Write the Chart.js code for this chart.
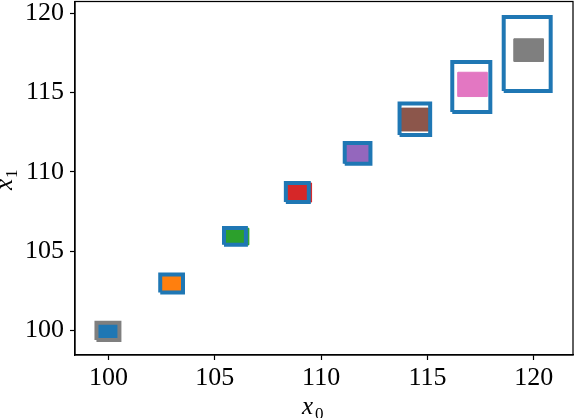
<!DOCTYPE html>
<html>
<head>
<meta charset="utf-8">
<script src="https://cdn.jsdelivr.net/npm/chart.js@4.4.1/dist/chart.umd.min.js"></script>
<style>
  html, body { margin: 0; padding: 0; background: #fff; }
  #wrap { width: 576px; height: 418px; }
</style>
</head>
<body>
<div id="wrap"><canvas id="c" width="576" height="418"></canvas></div>
<script>
// cluster colours (tab10)
const clusterColors = ['#1f77b4', '#ff7f0e', '#2ca02c', '#d62728', '#9467bd', '#8c564b', '#e377c2', '#7f7f7f'];

// extent of each point cloud
const ptsXMin = [99.45, 102.50, 105.45, 108.35, 111.10, 113.78, 116.44, 119.08];
const ptsXMax = [100.50, 103.55, 106.60, 109.55, 112.30, 115.05, 117.82, 120.46];
const ptsYMin = [99.42, 102.45, 105.40, 108.10, 110.55, 112.58, 114.75, 116.96];
const ptsYMax = [100.48, 103.50, 106.45, 109.30, 111.80, 114.02, 116.28, 118.39];

// bounding boxes drawn round each cloud
const boxXMin = [99.43, 102.43, 105.43, 108.34, 111.11, 113.69, 116.17, 118.59];
const boxXMax = [100.51, 103.50, 106.46, 109.42, 112.32, 115.13, 117.96, 120.80];
const boxYMin = [99.41, 102.40, 105.41, 108.10, 110.51, 112.32, 113.77, 115.10];
const boxYMax = [100.50, 103.54, 106.46, 109.30, 111.82, 114.31, 116.93, 119.76];
const boxColors = ['#7f7f7f', '#1f77b4', '#1f77b4', '#1f77b4', '#1f77b4', '#1f77b4', '#1f77b4', '#1f77b4'];

const xTicks = [100, 105, 110, 115, 120];
const yTicks = [100, 105, 110, 115, 120];

function rect(x0, x1, y0, y1) {
  return [{x: x0, y: y0}, {x: x1, y: y0}, {x: x1, y: y1}, {x: x0, y: y1}, {x: x0, y: y0}];
}

const datasets = [];
for (let i = 0; i < clusterColors.length; i++) {
  datasets.push({
    data: rect(ptsXMin[i], ptsXMax[i], ptsYMin[i], ptsYMax[i]),
    showLine: true,
    fill: 'shape',
    backgroundColor: clusterColors[i],
    borderColor: clusterColors[i],
    borderWidth: 1,
    pointRadius: 0,
    order: 2
  });
}
for (let i = 0; i < boxColors.length; i++) {
  datasets.push({
    data: rect(boxXMin[i], boxXMax[i], boxYMin[i], boxYMax[i]),
    showLine: true,
    fill: false,
    borderColor: boxColors[i],
    borderWidth: 4,
    borderJoinStyle: 'miter',
    pointRadius: 0,
    order: 1
  });
}

const serif = '"Liberation Serif", "DejaVu Serif", serif';

// frame on all four sides + mathtext-like axis titles
const framePlugin = {
  id: 'frame',
  afterDraw(chart) {
    const ctx = chart.ctx, a = chart.chartArea;
    ctx.save();
    ctx.strokeStyle = '#000';
    ctx.lineWidth = 1.25;
    ctx.strokeRect(a.left, a.top, a.right - a.left, a.bottom - a.top);

    ctx.fillStyle = '#000';
    ctx.textBaseline = 'alphabetic';
    // x title
    ctx.font = 'italic 25px ' + serif;
    ctx.fillText('x', 302, 414);
    ctx.font = '17px ' + serif;
    ctx.fillText('0', 315, 419);
    // y title
    ctx.translate(12, 190);
    ctx.rotate(-Math.PI / 2);
    ctx.font = 'italic 25px ' + serif;
    ctx.fillText('x', 0, 0);
    ctx.font = '17px ' + serif;
    ctx.fillText('1', 12, 5);
    ctx.restore();
  }
};

new Chart(document.getElementById('c'), {
  type: 'scatter',
  data: { datasets: datasets },
  options: {
    responsive: false,
    animation: false,
    devicePixelRatio: 1,
    layout: { padding: { left: 0, right: 3, top: 1.5, bottom: 0 } },
    plugins: { legend: { display: false }, tooltip: { enabled: false } },
    scales: {
      x: {
        type: 'linear',
        min: 98.42,
        max: 121.85,
        afterBuildTicks(s) { s.ticks = xTicks.map(v => ({value: v})); },
        afterFit(s) { s.height = 63; s.paddingLeft = 0; s.paddingRight = 0; },
        grid: { display: true, drawOnChartArea: false, drawTicks: true, tickLength: 5, tickColor: '#000', tickWidth: 1.2 },
        border: { display: true, color: '#000', width: 1.25 },
        ticks: { color: '#000', font: { family: serif, size: 26 }, padding: 3, maxRotation: 0, autoSkip: false }
      },
      y: {
        type: 'linear',
        min: 98.46,
        max: 120.74,
        afterBuildTicks(s) { s.ticks = yTicks.map(v => ({value: v})); },
        afterFit(s) { s.width = 75; s.paddingTop = 0; s.paddingBottom = 0; },
        grid: { display: true, drawOnChartArea: false, drawTicks: true, tickLength: 5, tickColor: '#000', tickWidth: 1.2 },
        border: { display: true, color: '#000', width: 1.25 },
        ticks: { color: '#000', font: { family: serif, size: 26 }, padding: 6, autoSkip: false }
      }
    }
  },
  plugins: [framePlugin]
});
</script>
</body>
</html>
